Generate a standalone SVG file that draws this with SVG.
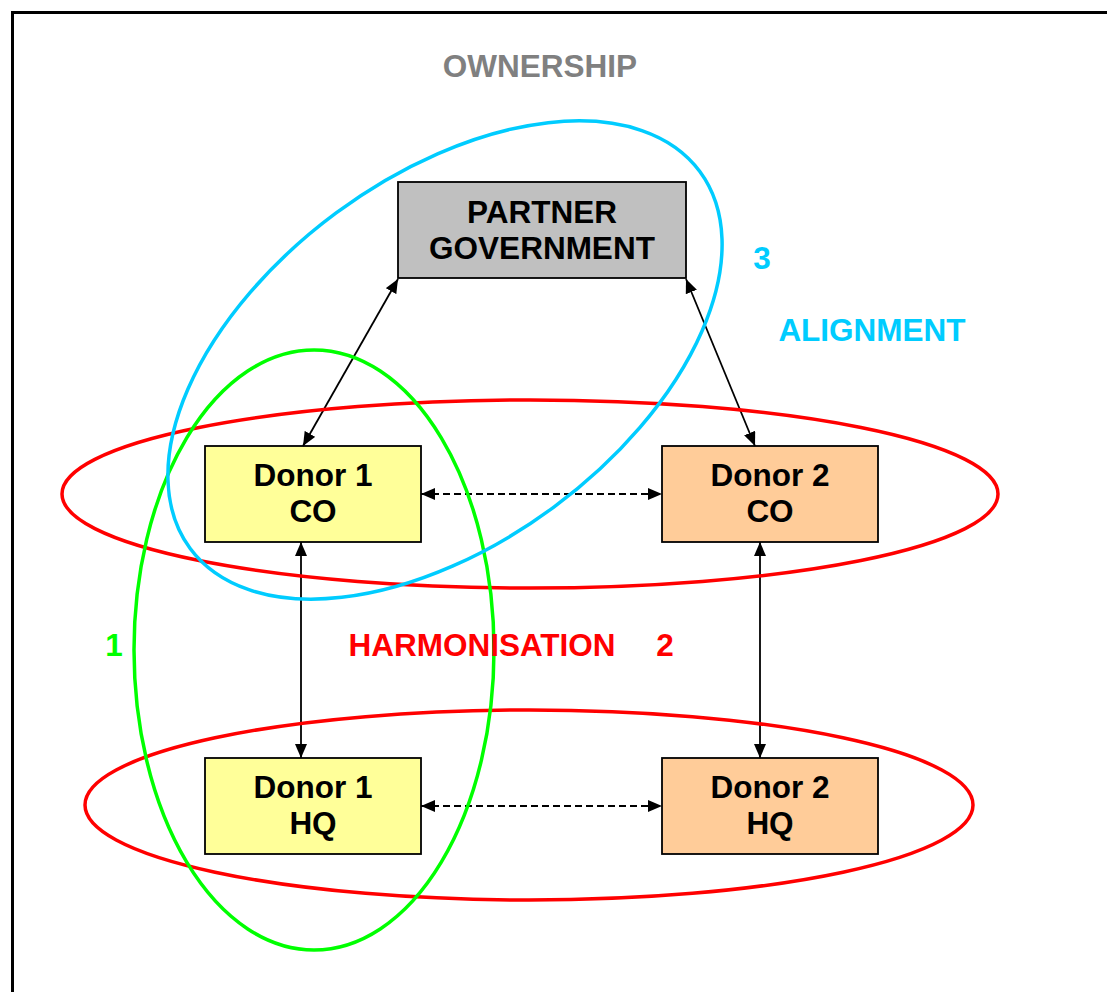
<svg xmlns="http://www.w3.org/2000/svg" width="1107" height="992" viewBox="0 0 1107 992">
<defs>
<style>
.box{stroke:#000;stroke-width:1.8}
.t{font-family:"Liberation Sans",Arial,sans-serif;font-weight:bold;font-size:31.5px;text-anchor:middle;fill:#000}
.lbl{font-family:"Liberation Sans",Arial,sans-serif;font-weight:bold;font-size:31.5px}
.c{fill:none;stroke:#000;stroke-width:1.8}
.d{stroke-dasharray:7 4}
.ring{fill:none;stroke-width:3.5}
</style>
<marker id="ah" viewBox="0 0 14 12" refX="14" refY="6" markerWidth="14" markerHeight="12" markerUnits="userSpaceOnUse" orient="auto-start-reverse">
<path d="M0,0 L14,6 L0,12 Z" fill="#000"/>
</marker>
</defs>
<rect width="1107" height="992" fill="#fff"/>
<rect x="12.5" y="12.5" width="1200" height="1100" fill="none" stroke="#000" stroke-width="3"/>

<g id="nodes">
<g id="partner-government">
<rect class="box" x="398" y="182" width="288" height="96" fill="#C0C0C0"/>
<text class="t" x="542" y="223">PARTNER</text>
<text class="t" x="542" y="259">GOVERNMENT</text>
</g>
<g id="donor1-co">
<rect class="box" x="205" y="446" width="216" height="96" fill="#FFFF99"/>
<text class="t" x="313" y="486">Donor 1</text>
<text class="t" x="313" y="522">CO</text>
</g>
<g id="donor2-co">
<rect class="box" x="662" y="446" width="216" height="96" fill="#FFCC99"/>
<text class="t" x="770" y="486">Donor 2</text>
<text class="t" x="770" y="522">CO</text>
</g>
<g id="donor1-hq">
<rect class="box" x="205" y="758" width="216" height="96" fill="#FFFF99"/>
<text class="t" x="313" y="798">Donor 1</text>
<text class="t" x="313" y="834">HQ</text>
</g>
<g id="donor2-hq">
<rect class="box" x="662" y="758" width="216" height="96" fill="#FFCC99"/>
<text class="t" x="770" y="798">Donor 2</text>
<text class="t" x="770" y="834">HQ</text>
</g>
</g>

<g id="connectors">
<line class="c" x1="398" y1="279" x2="303" y2="446" marker-start="url(#ah)" marker-end="url(#ah)"/>
<line class="c" x1="686" y1="279" x2="755" y2="446" marker-start="url(#ah)" marker-end="url(#ah)"/>
<line class="c" x1="301" y1="542" x2="301" y2="758" marker-start="url(#ah)" marker-end="url(#ah)"/>
<line class="c" x1="760" y1="542" x2="760" y2="758" marker-start="url(#ah)" marker-end="url(#ah)"/>
<line class="c d" x1="421" y1="494" x2="662" y2="494" marker-start="url(#ah)" marker-end="url(#ah)"/>
<line class="c d" x1="421" y1="806" x2="662" y2="806" marker-start="url(#ah)" marker-end="url(#ah)"/>
</g>

<g id="groupings">
<ellipse class="ring" cx="530" cy="494" rx="468" ry="94" stroke="#FF0000"/>
<ellipse class="ring" cx="529" cy="805" rx="444" ry="95" stroke="#FF0000"/>
<ellipse class="ring" cx="314" cy="650" rx="180" ry="300" stroke="#00FF00"/>
<ellipse class="ring" cx="445" cy="360" rx="317" ry="183" stroke="#00CCFF" transform="rotate(-36.5 445 360)"/>
</g>

<g id="labels">
<text class="lbl" x="540" y="77" text-anchor="middle" fill="#808080">OWNERSHIP</text>
<text class="lbl" x="762" y="269" text-anchor="middle" fill="#00CCFF">3</text>
<text class="lbl" x="872" y="341" text-anchor="middle" fill="#00CCFF">ALIGNMENT</text>
<text class="lbl" x="114" y="656" text-anchor="middle" fill="#00FF00">1</text>
<text class="lbl" x="482" y="656" text-anchor="middle" fill="#FF0000">HARMONISATION</text>
<text class="lbl" x="665" y="656" text-anchor="middle" fill="#FF0000">2</text>
</g>
</svg>
